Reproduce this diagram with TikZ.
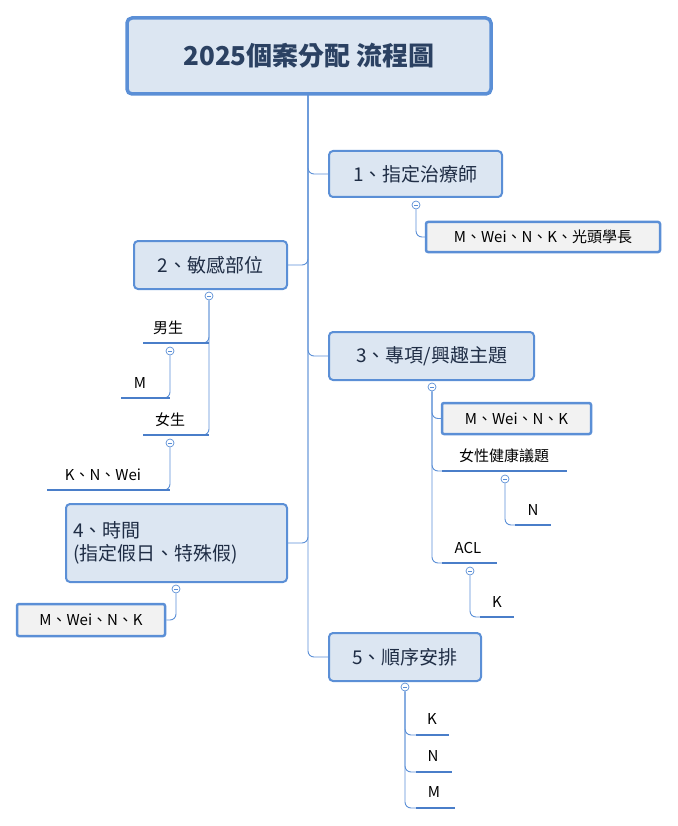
\documentclass[tikz,border=0pt]{standalone}
\usepackage{fontspec}
\setmainfont{Noto Sans CJK TC}
\begin{document}
\definecolor{bd}{HTML}{5B8FD6}
\definecolor{ul}{HTML}{4A7EC9}
\definecolor{fillb}{HTML}{DCE6F2}
\definecolor{txt}{HTML}{1F2D45}
\begin{tikzpicture}[x=1pt,y=-1pt,
  topic/.style={draw=bd,line width=2pt,fill=fillb,rounded corners=4pt,inner sep=0pt,text=txt,font=\fontsize{19}{23}\selectfont},
  leaf/.style={draw=bd,line width=2.5pt,fill=black!5,rounded corners=2pt,inner sep=0pt,text=black,font=\fontsize{15}{18}\selectfont},
  lbl/.style={text=black,font=\fontsize{15}{18}\selectfont,inner sep=0pt},
  uline/.style={draw=ul,line width=2.5pt},
  conn/.style={draw=bd,line width=0.9pt,rounded corners=6pt},
  coll/.style={circle,draw=bd,fill=white,line width=0.7pt,minimum size=8pt,inner sep=0pt,
    path picture={\draw[bd,line width=0.7pt] ([xshift=-2pt]path picture bounding box.center)--([xshift=2pt]path picture bounding box.center);}}]
\useasboundingbox (0,0) rectangle (677,826);
% root
\node[draw=bd,line width=3.5pt,fill=fillb,rounded corners=5pt,minimum width=364pt,minimum height=76pt,text=txt!80!bd,font=\fontsize{26}{30}\selectfont\bfseries] (root) at (309,56) {2025個案分配 流程圖};
% topics
\node[topic,minimum width=173pt,minimum height=46pt] (n1) at (415.5,174) {1、指定治療師};
\node[topic,minimum width=153pt,minimum height=48pt] (n2) at (210.5,265) {2、敏感部位};
\node[topic,minimum width=205pt,minimum height=48pt] (n3) at (431.5,356) {3、專項/興趣主題};
\node[topic,minimum width=221pt,minimum height=78pt,align=left,text width=207pt] (n4) at (176.5,543) {4、時間\\(指定假日、特殊假)};
\node[topic,minimum width=152pt,minimum height=48pt] (n5) at (405,657) {5、順序安排};
% trunk
\coordinate (t0) at (308,95);
\draw[conn] (t0) |- (n1.west);
\draw[conn] (t0) |- (n2.east);
\draw[conn] (t0) |- (n3.west);
\draw[conn] (t0) |- (n4.east);
\draw[conn] (t0) |- (n5.west);
% branch 1
\node[leaf,minimum width=234pt,minimum height=30pt] (l1) at (543,237) {M、Wei、N、K、光頭學長};
\node[coll] (c1) at (416,205) {};
\draw[conn] (c1) |- (l1.west);
% branch 2
\node[coll] (c2) at (209,296) {};
\coordinate (m1) at (143,343); \coordinate (f1) at (143,435);
\node[lbl] (boy) at (168,328) {男生};
\node[lbl] (girl) at (170,420) {女生};
\draw[conn] (c2) |- (m1);
\draw[conn] (c2) |- (f1);
\draw[uline] (143,343) -- (209,343);
\draw[uline] (143,435) -- (209,435);
\node[coll] (c21) at (170,351) {};
\coordinate (m2) at (121,398);
\draw[conn] (c21) |- (m2);
\draw[uline] (121,398) -- (170,398);
\node[lbl] (mm) at (140,383) {M};
\node[coll] (c22) at (170,443) {};
\coordinate (k2) at (47,490);
\draw[conn] (c22) |- (k2);
\draw[uline] (47,490) -- (170,490);
\node[lbl] (knw) at (103,475) {K、N、Wei};
% branch 3
\node[coll] (c3) at (432,387) {};
\node[leaf,minimum width=149pt,minimum height=31pt] (l3) at (516.5,418.5) {M、Wei、N、K};
\coordinate (w3) at (442,471); \coordinate (a3) at (442,563);
\draw[conn] (c3) |- (l3.west);
\draw[conn] (c3) |- (w3);
\draw[conn] (c3) |- (a3);
\draw[uline] (442,471) -- (567,471);
\node[lbl] (women) at (504,456) {女性健康議題};
\draw[uline] (442,563) -- (497,563);
\node[lbl] (acl) at (468,548) {ACL};
\node[coll] (c31) at (505,479) {};
\coordinate (n31) at (515,525);
\draw[conn] (c31) |- (n31);
\draw[uline] (515,525) -- (551,525);
\node[lbl] (nn) at (533,510) {N};
\node[coll] (c32) at (470,571) {};
\coordinate (k32) at (480,617);
\draw[conn] (c32) |- (k32);
\draw[uline] (480,617) -- (514,617);
\node[lbl] (kk) at (497,602) {K};
% branch 4
\node[coll] (c4) at (176,589) {};
\node[leaf,minimum width=148pt,minimum height=32pt] (l4) at (91,620) {M、Wei、N、K};
\draw[conn] (c4) |- (l4.east);
% branch 5
\node[coll] (c5) at (405,687) {};
\coordinate (k5) at (416,735); \coordinate (n5b) at (416,772); \coordinate (m5) at (416,808);
\draw[conn] (c5) |- (k5);
\draw[conn] (c5) |- (n5b);
\draw[conn] (c5) |- (m5);
\draw[uline] (416,735) -- (449,735);
\draw[uline] (416,772) -- (452,772);
\draw[uline] (416,808) -- (455,808);
\node[lbl] (k5t) at (432,719) {K};
\node[lbl] (n5t) at (433,756) {N};
\node[lbl] (m5t) at (434,792) {M};
\end{tikzpicture}
\end{document}
